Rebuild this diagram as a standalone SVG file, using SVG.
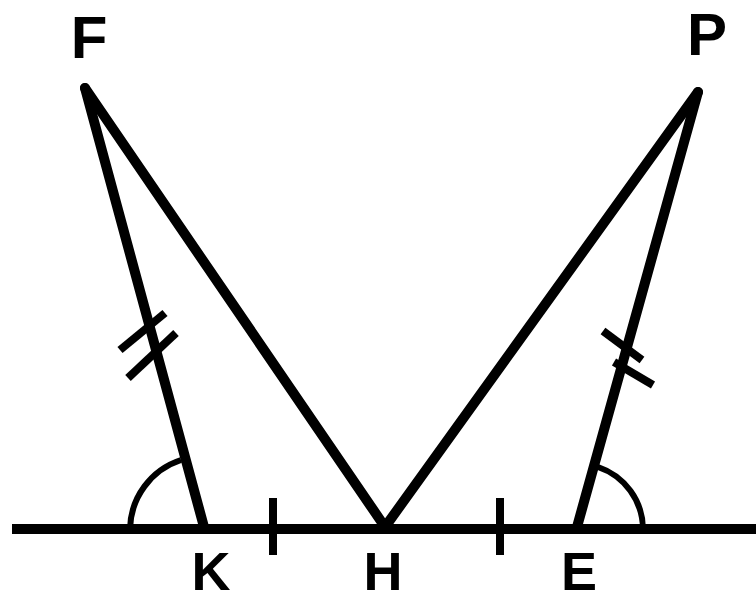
<svg xmlns="http://www.w3.org/2000/svg" width="756" height="602" viewBox="0 0 756 602">
<style>
.ln{stroke:#000;stroke-width:10;stroke-linecap:round;fill:none}
.tk{stroke:#000;stroke-width:8;stroke-linecap:butt;fill:none}
.arc{stroke:#000;stroke-width:6;fill:none}
.lb{font-family:"Liberation Sans",Arial,sans-serif;font-weight:bold;font-size:60px;fill:#000;text-anchor:middle}
.lb2{font-size:54px}
</style>
<rect width="756" height="602" fill="#fff"/>
<g id="connectors">
<line class="ln" x1="12" y1="529" x2="756" y2="529" style="stroke-linecap:butt;stroke-width:10"/>
<line class="ln" x1="85" y1="88" x2="204" y2="527"/>
<line class="ln" x1="85" y1="88" x2="385" y2="527"/>
<line class="ln" x1="698" y1="92" x2="385" y2="527"/>
<line class="ln" x1="698" y1="92" x2="577" y2="527"/>
<line class="tk" x1="273" y1="498" x2="273" y2="555"/>
<line class="tk" x1="500" y1="498" x2="500" y2="555"/>
<line class="tk" x1="120" y1="350" x2="165" y2="313"/>
<line class="tk" x1="128" y1="378" x2="176" y2="333"/>
<line class="tk" x1="603" y1="331" x2="642" y2="360"/>
<line class="tk" x1="614" y1="362" x2="653" y2="385"/>
<path class="arc" d="M130 529 A74 74 0 0 1 181 460"/>
<path class="arc" d="M643 529 A66 66 0 0 0 598 467"/>
</g>
<g id="F"><text class="lb" x="89" y="58">F</text></g>
<g id="P"><text class="lb" x="707" y="55">P</text></g>
<g id="K"><text class="lb lb2" x="211" y="590">K</text></g>
<g id="H"><text class="lb lb2" x="383" y="590">H</text></g>
<g id="E"><text class="lb lb2" x="579" y="590">E</text></g>
</svg>
